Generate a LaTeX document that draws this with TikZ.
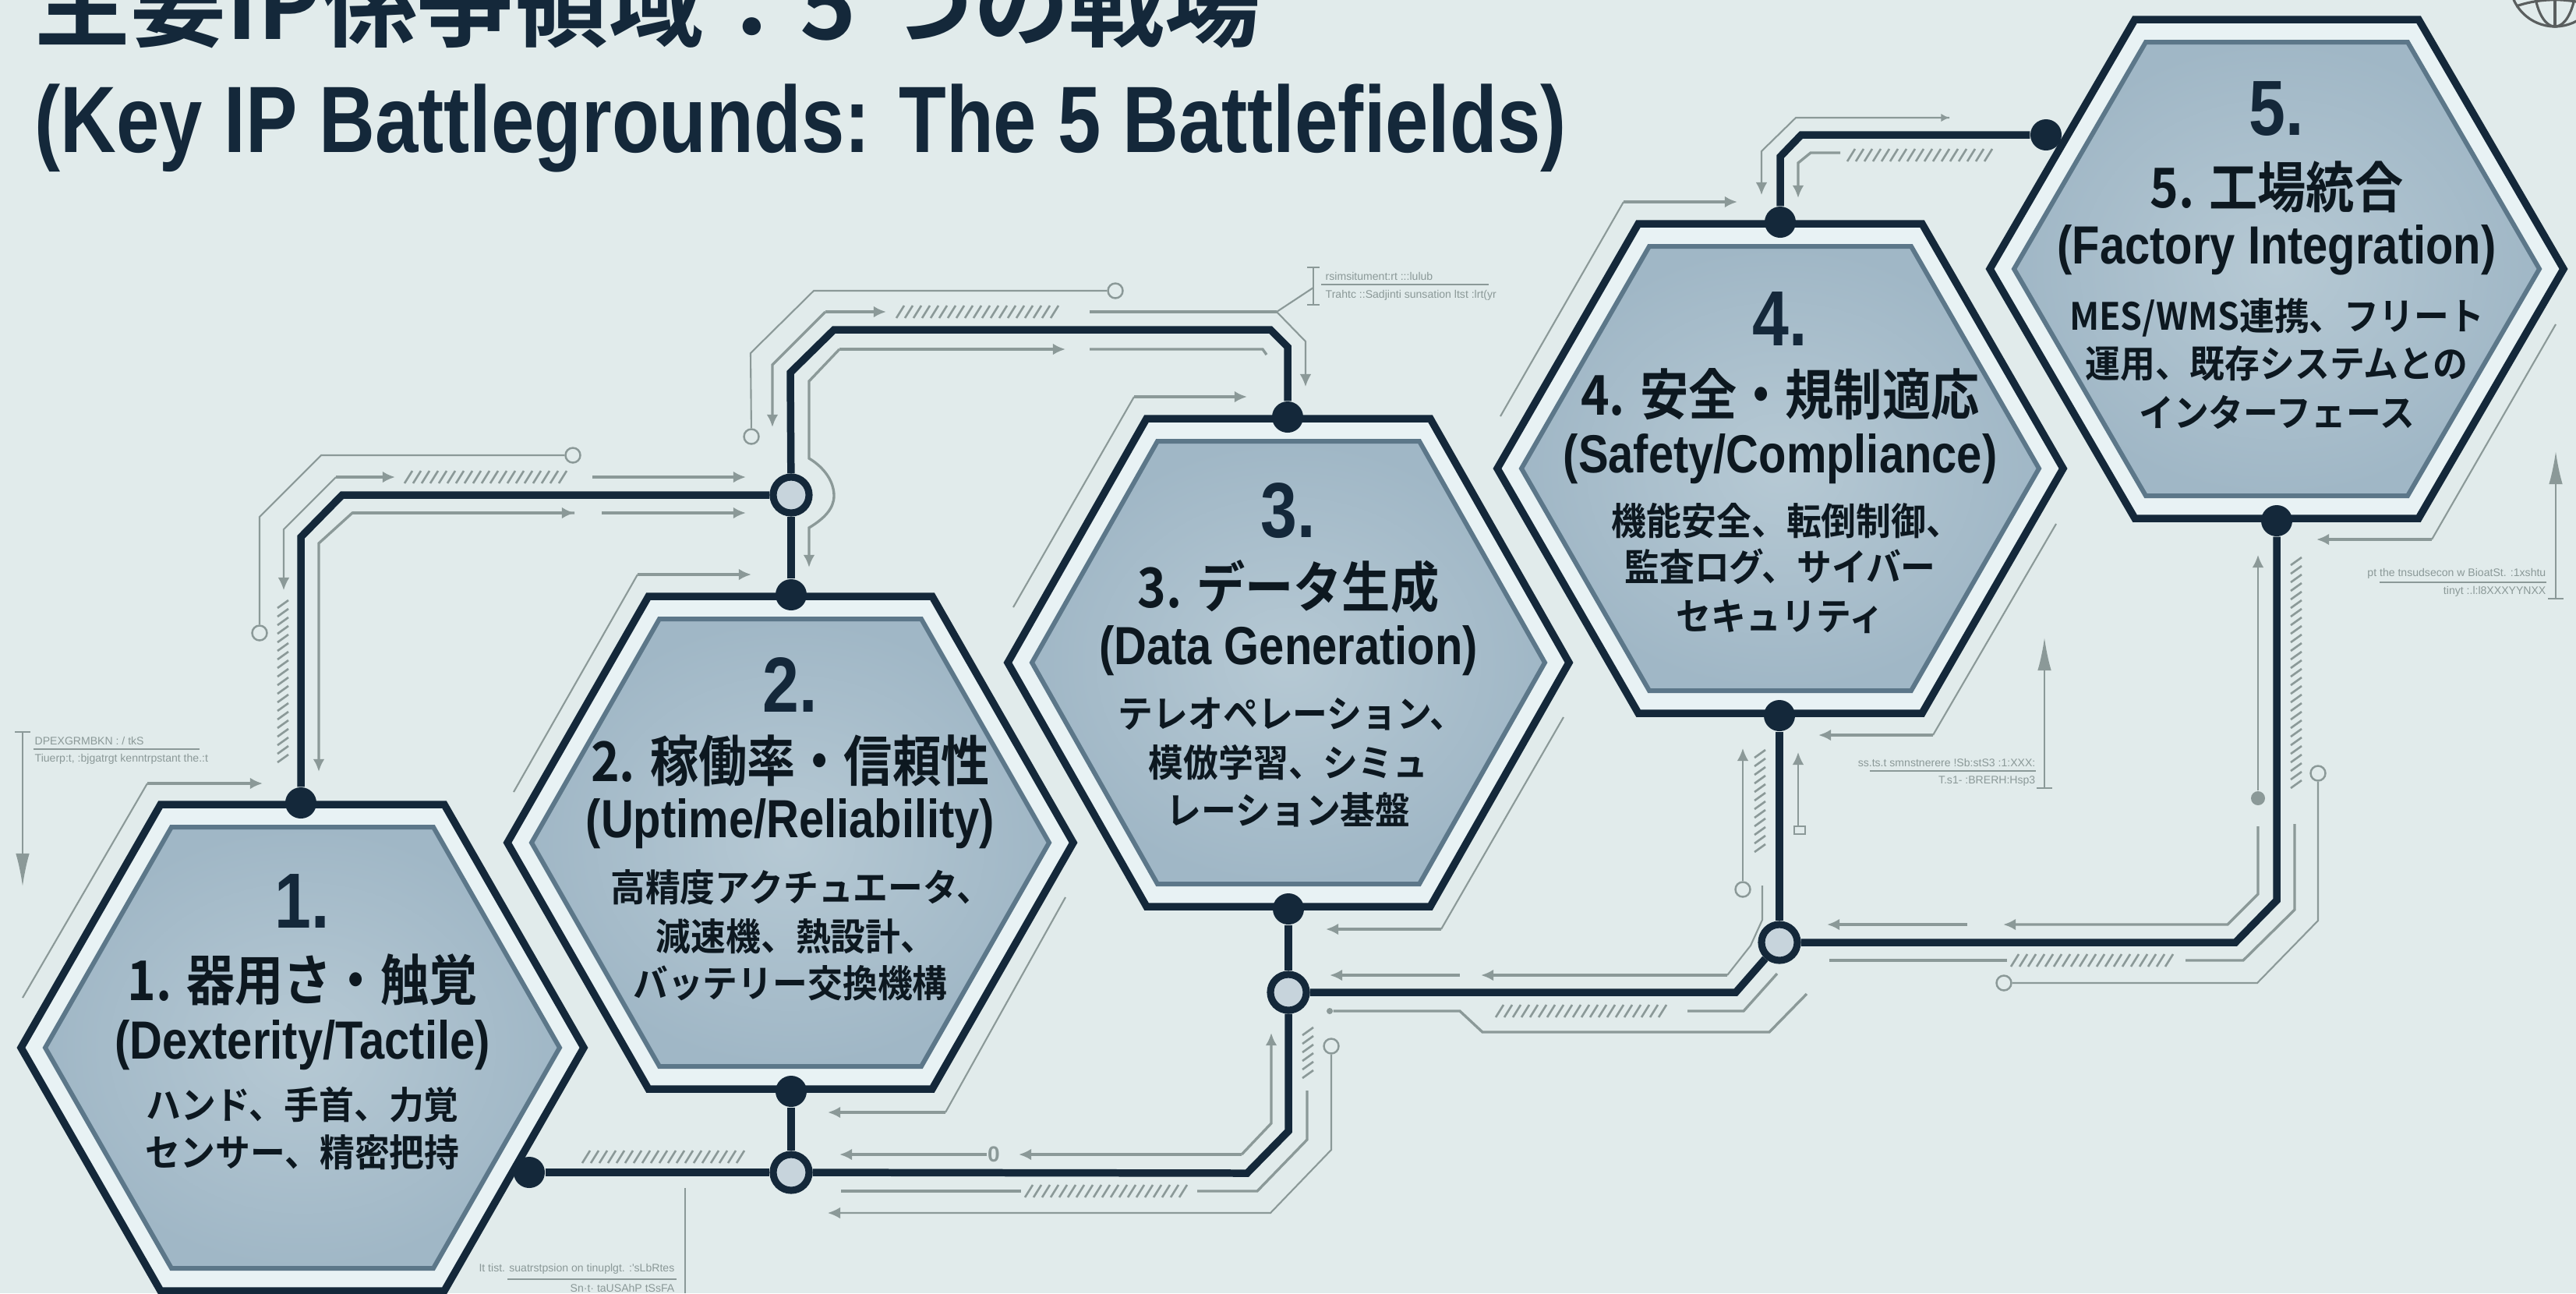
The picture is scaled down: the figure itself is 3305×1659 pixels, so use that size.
\documentclass[tikz,border=0pt]{standalone}
\usepackage{fontspec}
\usetikzlibrary{arrows.meta}
\newfontfamily\jpf{Noto Sans CJK JP}[BoldFont=* Bold]
\newfontfamily\jpc{Noto Sans CJK JP}[BoldFont=* Bold,FakeStretch=0.885]
\newfontfamily\jpd{Noto Sans CJK JP}[BoldFont=* Bold,FakeStretch=0.93]
\newfontfamily\lic{Liberation Sans}[FakeStretch=0.84]
\newfontfamily\lit{Liberation Sans}[FakeStretch=0.822]
\newfontfamily\lis{Liberation Sans}
\definecolor{bgc}{HTML}{E1EBEB}
\definecolor{halo}{HTML}{E8F2F4}
\definecolor{navy}{HTML}{14283A}
\definecolor{inb}{HTML}{5C7789}
\definecolor{ink}{HTML}{0D1820}
\definecolor{gry}{HTML}{8B9998}
\definecolor{ringf}{HTML}{C7D4DC}
\definecolor{hin}{HTML}{B6C9D4}
\definecolor{hout}{HTML}{A0B7C6}
\tikzset{
  main/.style={draw=navy,line width=2.7pt,line join=miter},
  thin/.style={draw=gry,line width=.6pt},
  med/.style={draw=gry,line width=.95pt},
  tip/.style={-{Latex[length=4.6pt,width=4.2pt]}},
  bigtip/.style={-{Latex[length=12pt,width=5pt]}},
  hatchl/.style={draw=gry,line width=.75pt},
  dot/.style={circle,fill=navy,minimum size=.4cm,inner sep=0pt},
  ring/.style={circle,draw=navy,line width=2.6pt,fill=ringf,minimum size=.46cm,inner sep=0pt},
  gc/.style={circle,draw=gry,line width=.7pt,fill=bgc,minimum size=.19cm,inner sep=0pt},
  gd/.style={circle,fill=gry,minimum size=.18cm,inner sep=0pt},
  num/.style={anchor=base,inner sep=0pt,text=navy,font=\fontsize{28.5}{30}\lic\bfseries},
  head/.style={anchor=base,inner sep=0pt,text=ink,font=\fontsize{20}{22}\jpc\bfseries},
  eng/.style={anchor=base,inner sep=0pt,text=ink,font=\fontsize{19.6}{21}\lic\bfseries},
  body/.style={anchor=base,inner sep=0pt,text=ink,font=\fontsize{13.7}{15}\jpd\bfseries},
  tiny/.style={inner sep=0pt,text=gry,font=\fontsize{4}{5}\lis},
  ttl/.style={anchor=base west,inner sep=0pt,text=navy}
}
\newcommand{\hexa}[4]{%
  \path[draw=navy,line width=2.7pt,fill=halo,line join=miter]
    (#1-#3,#2) -- (#1-182,#2-#4) -- (#1+182,#2-#4) -- (#1+#3,#2) -- (#1+182,#2+#4) -- (#1-182,#2+#4) -- cycle;
  \path[draw=inb,line width=1.7pt,inner color=hin,outer color=hout,line join=miter]
    (#1-#3+31,#2) -- (#1-168,#2-#4+29) -- (#1+168,#2-#4+29) -- (#1+#3-31,#2) -- (#1+168,#2+#4-29) -- (#1-168,#2+#4-29) -- cycle;
}
\newcommand{\hhatch}[3]{%
  \pgfmathtruncatemacro{\nxx}{#1+11}%
  \foreach \xx in {#1,\nxx,...,#2}{\draw[hatchl] (\xx-5,#3+8) -- (\xx+5,#3-8);}}
\newcommand{\vhatch}[3]{%
  \pgfmathtruncatemacro{\nyy}{#2+11}%
  \foreach \yy in {#2,\nyy,...,#3}{\draw[hatchl] (#1-7,\yy+5) -- (#1+7,\yy-5);}}
\begin{document}
\begin{tikzpicture}[x=0.01cm,y=-0.01cm]
\path[fill=bgc] (0,0) rectangle (3305,1659);
\useasboundingbox (0,0) rectangle (3305,1659);
\begin{scope}
\clip (0,0) rectangle (3305,1659);
% globe
\draw[draw=black!60!bgc,line width=.9pt] (3278,-24) circle (58);
\draw[draw=black!60!bgc,line width=.9pt] (3278,-24) ellipse (27 and 58);
\draw[draw=black!60!bgc,line width=.9pt] (3278,-82) -- (3278,34);
\draw[draw=black!60!bgc,line width=.9pt] (3228,8) .. controls (3260,-3) and (3296,-3) .. (3328,8);
% hexagons
\hexa{388}{1344}{361}{312}
\hexa{1014}{1081}{363}{316}
\hexa{1653}{850}{360}{313}
\hexa{2284}{601}{363}{314}
\hexa{2921}{345}{368}{320}
\end{scope}
% title
\node[ttl,font=\fontsize{34.9}{36}\jpf\bfseries] (t1) at (44,50) {主要IP係争領域：5 つの戦場};
\node[ttl,font=\fontsize{34.4}{36}\lit\bfseries] (t2) at (44,195) {(Key IP Battlegrounds: The 5 Battlefields)};
% junctions
\node[dot] (d1t) at (386,1030) {};
\node[dot] (d1r) at (679,1504) {};
\node[dot] (d2t) at (1015,763) {};
\node[dot] (d2b) at (1015,1400) {};
\node[dot] (d3t) at (1652,535) {};
\node[dot] (d3b) at (1653,1166) {};
\node[dot] (d4t) at (2284,285) {};
\node[dot] (d4b) at (2283,918) {};
\node[dot] (d5l) at (2625,173) {};
\node[dot] (d5b) at (2921,668) {};
\node[ring] (r12) at (1015,635) {};
\node[ring] (r1b) at (1015,1504) {};
\node[ring] (r3b) at (1653,1273) {};
\node[ring] (r4b) at (2283,1209) {};
% main connectors
\draw[main] (d1t) -- (386,689) -- (439,635) -- (r12);
\draw[main] (d2t) -- (r12);
\draw[main] (r12) -- (1014,478) -- (1070,423) -- (1630,423) -- (1652,445) -- (d3t);
\draw[main] (d2b) -- (r1b);
\draw[main] (d1r) -- (r1b);
\draw[main] (r1b) -- (1600,1505) -- (1653,1451) -- (r3b);
\draw[main] (d3b) -- (r3b);
\draw[main] (r3b) -- (2227,1273) -- (r4b);
\draw[main] (d4b) -- (r4b);
\draw[main] (r4b) -- (2868,1209) -- (2921,1155) -- (d5b);
\draw[main] (d4t) -- (2284,201) -- (2311,173) -- (d5l);
% grey traces round connector 1
\node[gc] (g1) at (333,812) {};
\node[gc] (g2) at (735,584) {};
\draw[thin] (g1) -- (333,663) -- (412,584) -- (g2);
\draw[thin,tip] (431,612) -- (364,679) -- (364,757);
\draw[med,tip] (431,612) -- (507,612);
\hhatch{524}{723}{612}
\draw[med,tip] (760,612) -- (957,612);
\vhatch{363}{775}{983}
\draw[med,tip] (737,658) -- (452,658) -- (409,697) -- (409,990);
\draw[med,tip] (452,658) -- (737,658);
\draw[med,tip] (772,658) -- (957,658);
% grey traces round connector 2
\node[gc] (g3) at (964,560) {};
\node[gc] (g4) at (1431,373) {};
\draw[thin] (g3) -- (963,453) -- (1044,373) -- (g4);
\draw[med,tip] (1059,400) -- (991,468) -- (991,548);
\draw[med,tip] (1059,400) -- (1137,400);
\hhatch{1155}{1354}{400}
\draw[med] (1398,400) -- (1638,400);
\draw[thin,tip] (1638,400) -- (1675,438) -- (1675,496);
\draw[med,tip] (1077,448) -- (1367,448);
\draw[med] (1398,448) -- (1620,448) -- (1625,455);
\draw[med,tip] (1077,448) -- (1038,489) -- (1038,588) .. controls (1058,600) and (1070,618) .. (1070,636) .. controls (1070,652) and (1058,665) .. (1038,677) -- (1038,728);
% hexagon side traces
\draw[thin] (29,1280) -- (189,1005);
\draw[med,tip] (189,1005) -- (337,1005);
\draw[thin] (659,1016) -- (818,737);
\draw[med,tip] (818,737) -- (964,737);
\draw[thin] (1300,779) -- (1455,509);
\draw[med,tip] (1455,509) -- (1600,509);
\draw[thin] (1925,534) -- (2083,259);
\draw[med,tip] (2083,259) -- (2229,259);
\draw[thin] (1367,1151) -- (1213,1427);
\draw[med,tip] (1213,1427) -- (1062,1427);
\draw[thin] (2006,920) -- (1849,1192);
\draw[med,tip] (1849,1192) -- (1701,1192);
\draw[thin] (2638,672) -- (2480,943);
\draw[med,tip] (2480,943) -- (2333,943);
\draw[thin] (3279,416) -- (3120,692);
\draw[med,tip] (3120,692) -- (2972,692);
% grey traces above H4
\draw[thin,tip] (2501,151) -- (2304,151) -- (2260,194) -- (2260,250);
\draw[thin,-{Latex[length=3pt,width=3pt]}] (2304,151) -- (2501,151);
\draw[med,tip] (2361,196) -- (2323,196) -- (2307,209) -- (2307,254);
\hhatch{2375}{2561}{199}
% grey traces round lower connectors
\hhatch{752}{959}{1484}
\draw[med,tip] (1593,1481) -- (1631,1441) -- (1631,1325);
\draw[med,tip] (1593,1481) -- (1307,1481);
\node[anchor=center,inner sep=0pt,text=gry,font=\fontsize{8}{9}\lis\bfseries] (z0) at (1275,1481) {0};
\draw[med,tip] (z0) -- (1077,1481);
\draw[med] (1079,1528) -- (1310,1528);
\hhatch{1320}{1519}{1528}
\draw[med] (1536,1528) -- (1613,1528) -- (1677,1462) -- (1677,1399);
\vhatch{1678}{1323}{1388}
\node[gc] (g5) at (1708,1342) {};
\draw[thin,tip] (g5) -- (1708,1475) -- (1630,1556) -- (1062,1556);
% between H3 and H4
\draw[med,tip] (2216,1251) -- (1900,1251);
\draw[med,tip] (1873,1251) -- (1706,1251);
\draw[thin] (2216,1251) -- (2246,1213) -- (2261,1180) -- (2261,1136);
\node[gd,minimum size=.08cm] (g6) at (1706,1297) {};
\draw[med] (g6) -- (1873,1297) -- (1902,1324) -- (2270,1324) -- (2318,1275);
\hhatch{1924}{2141}{1297}
\draw[med] (2165,1297) -- (2237,1297) -- (2280,1249);
\node[gc] (g7) at (2236,1141) {};
\draw[thin,tip] (g7) -- (2236,960);
\vhatch{2258}{967}{1097}
\draw[thin,tip] (2307,1060) -- (2307,965);
\draw[thin] (2302,1060) rectangle (2316,1070);
% right of H4
\draw[med,tip] (2524,1186) -- (2344,1186);
\draw[med,tip] (2897,1060) -- (2897,1147) -- (2858,1186) -- (2570,1186);
\node[gd] (g8) at (2897,1024) {};
\draw[thin,tip] (g8) -- (2897,712);
\vhatch{2946}{720}{1015}
\draw[med] (2944,1057) -- (2944,1167) -- (2878,1232) -- (2804,1232);
\hhatch{2585}{2787}{1232}
\draw[med] (2575,1232) -- (2347,1232);
\node[gc] (g9) at (2974,992) {};
\node[gc] (g10) at (2571,1261) {};
\draw[thin] (g9) -- (2974,1181) -- (2896,1261) -- (g10);
% small notes
\coordinate (n1a) at (29,1137);
\draw[thin,bigtip] (29,939) -- (n1a);
\draw[thin] (19,939) -- (39,939);
\draw[thin] (43,961) -- (256,961);
\node[tiny,anchor=west] (n1t) at (44,950) {DPEXGRMBKN : / tkS};
\node[tiny,anchor=west] (n1u) at (44,974) {Tiuerp:t, :bjgatrgt kenntrpstant the.:t};
\draw[thin] (1685,343) -- (1685,391);
\draw[thin] (1677,343) -- (1693,343);
\draw[thin] (1677,391) -- (1693,391);
\draw[thin] (1638,400) -- (1685,369);
\draw[thin] (1695,365) -- (1910,365);
\node[tiny,anchor=west] (n2t) at (1700,354) {rsimsitument:rt :::lulub};
\node[tiny,anchor=west] (n2u) at (1700,379) {Trahtc ::Sadjinti sunsation ltst :lrt(yr};
\draw[thin,bigtip] (2623,1011) -- (2623,818);
\draw[thin] (2613,1011) -- (2633,1011);
\draw[thin] (2399,989) -- (2612,989);
\node[tiny,anchor=east] (n3t) at (2612,978) {ss.ts.t smnstnerere !Sb:stS3 :1:XXX:};
\node[tiny,anchor=east] (n3u) at (2612,1002) {T.s1- :BRERH:Hsp3};
\draw[thin,bigtip] (3279,768) -- (3279,579);
\draw[thin] (3269,768) -- (3289,768);
\draw[thin] (3053,747) -- (3267,747);
\node[tiny,anchor=east] (n4t) at (3267,736) {pt the tnsudsecon w BioatSt. :1xshtu};
\node[tiny,anchor=east] (n4u) at (3267,759) {tinyt :.l:l8XXXYYNXX};
\draw[thin] (879,1524) -- (879,1659);
\draw[thin] (651,1641) -- (868,1641);
\node[tiny,anchor=east] (n5t) at (866,1628) {It tist. suatrstpsion on tinuplgt. :'sLbRtes};
\node[tiny,anchor=east] (n5u) at (866,1652) {Sn·t· taUSAhP tSsFA};
% hexagon texts
\node[num]  (a0) at (388,1190) {1.};
\node[head] (a1) at (388,1283) {1. 器用さ・触覚};
\node[eng]  (a2) at (388,1358) {(Dexterity/Tactile)};
\node[body] (a3) at (388,1435) {ハンド、手首、力覚};
\node[body] (a4) at (388,1496) {センサー、精密把持};
\node[num]  (b0) at (1014,913) {2.};
\node[head] (b1) at (1014,1002) {2. 稼働率・信頼性};
\node[eng]  (b2) at (1014,1074) {(Uptime/Reliability)};
\node[body] (b3) at (1028,1156) {高精度アクチュエータ、};
\node[body] (b4) at (1021,1219) {減速機、熱設計、};
\node[body] (b5) at (1014,1279) {バッテリー交換機構};
\node[num]  (c0) at (1653,689) {3.};
\node[head] (c1) at (1653,779) {3. データ生成};
\node[eng]  (c2) at (1653,852) {(Data Generation)};
\node[body] (c3) at (1657,933) {テレオペレーション、};
\node[body] (c4) at (1653,996) {模倣学習、シミュ};
\node[body] (c5) at (1653,1057) {レーション基盤};
\node[num]  (e0) at (2284,443) {4.};
\node[head] (e1) at (2284,532) {4. 安全・規制適応};
\node[eng]  (e2) at (2284,606) {(Safety/Compliance)};
\node[body] (e3) at (2292,686) {機能安全、転倒制御、};
\node[body] (e4) at (2284,745) {監査ログ、サイバー};
\node[body] (e5) at (2284,808) {セキュリティ};
\node[num]  (f0) at (2921,173) {5.};
\node[head] (f1) at (2921,266) {5. 工場統合};
\node[eng]  (f2) at (2921,338) {(Factory Integration)};
\node[body] (f3) at (2921,423) {MES/WMS連携、フリート};
\node[body] (f4) at (2921,484) {運用、既存システムとの};
\node[body] (f5) at (2921,547) {インターフェース};
\end{tikzpicture}
\end{document}
